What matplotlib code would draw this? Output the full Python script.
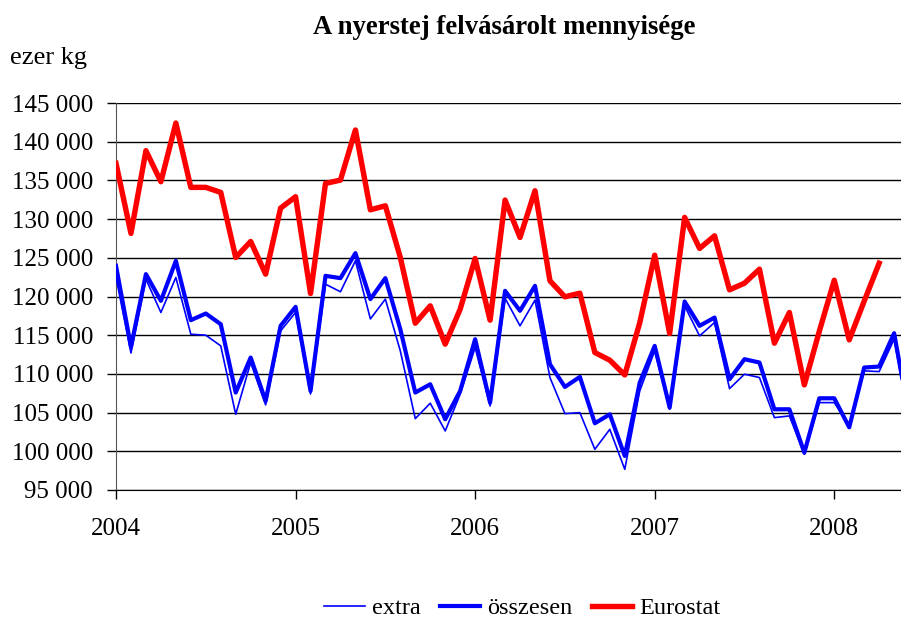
import numpy as np
import matplotlib
matplotlib.use('Agg')
import matplotlib.pyplot as plt

plt.rcParams['font.family'] = ['Liberation Serif', 'DejaVu Serif']

# havi adatok, 2004 jan - 2008 jun (ezer kg)
osszesen = [123970, 113500, 122890, 119440, 124610, 116940, 117800, 116420, 107590, 112110, 106500, 116210,
            118660, 107800, 122670, 122370, 125600, 119660, 122370, 115780, 107590, 108660, 104140, 107800,
            114480, 106290, 120730, 118150, 121380, 111250, 108320, 109610, 103620, 104780, 99400, 108880,
            113620, 105650, 119350, 116210, 117280, 109310, 111900, 111470, 105430, 105430, 99830, 106850,
            106850, 103100, 110820, 110950, 115260, 104500]
extra = [122500, 112700, 122240, 117930, 122460, 115130, 115000, 113620, 104780, 111470, 106000, 115560,
         117930, 107400, 121590, 120610, 124610, 117100, 119660, 112970, 104220, 106210, 102630, 107370,
         113410, 105860, 119780, 116210, 119530, 109530, 104870, 105000, 100260, 102840, 97670, 107800,
         112970, 105430, 118790, 114910, 116640, 108100, 109960, 109530, 104350, 104570, 99610, 106290,
         106290, 103400, 110390, 110300, 114480, 104000]
eurostat = [137200, 128150, 138840, 134830, 142410, 134100, 134100, 133450, 125040, 127110, 122890, 131420,
            132890, 120390, 134610, 135040, 141510, 131200, 131720, 125040, 116550, 118790, 113840, 118360,
            124910, 116940, 132460, 127630, 133660, 122030, 119960, 120430, 112760, 111770, 109870, 116600,
            125340, 115220, 130220, 126210, 127840, 120860, 121720, 123530, 113970, 117930, 108580, 115500,
            122100, 114400, 119400, 124300]
evek = ['2004', '2005', '2006', '2007', '2008']
y_ticks = list(range(95000, 145001, 5000))

fig = plt.figure(figsize=(9.01, 6.20), dpi=100)
ax = fig.add_axes([116/901, 1 - 490/620, (901 - 116)/901, (490 - 103)/620])

ax.plot(np.arange(len(osszesen)), osszesen, color='#0000ff', lw=3.0, label='összesen', zorder=3)
ax.plot(np.arange(len(extra)), extra, color='#0000ff', lw=1.2, label='extra', zorder=4)
ax.plot(np.arange(len(eurostat)), eurostat, color='#ff0000', lw=3.9, label='Eurostat', zorder=3)

ax.set_xlim(0, 52.46)
ax.set_ylim(95000, 145000)
ax.set_yticks(y_ticks)
ax.set_yticklabels([f'{v:,}'.replace(',', ' ') for v in y_ticks])
ax.set_xticks([12 * i for i in range(len(evek))])
ax.set_xticklabels(evek)
ax.yaxis.grid(True, color='black', lw=1)
ax.set_axisbelow(True)
ax.tick_params(axis='y', direction='out', length=6.5, width=1, pad=10, labelsize=18)
ax.tick_params(axis='x', direction='out', length=6.5, width=1, pad=14, labelsize=18)

ax.spines['top'].set_visible(False)
ax.spines['right'].set_visible(False)
ax.spines['left'].set_color('#555555')
ax.spines['bottom'].set_color('black')

fig.text(0.56, 1 - 27/620, 'A nyerstej felvásárolt mennyisége', ha='center', va='center',
         fontsize=19.3, fontweight='bold')
fig.text(10/901, 1 - 58/620, 'ezer kg', ha='left', va='center', fontsize=19)

h, l = ax.get_legend_handles_labels()
order = [1, 0, 2]
fig.legend([h[i] for i in order], [l[i] for i in order], loc='center', bbox_to_anchor=(0.58, 1 - 608/620),
           ncol=3, frameon=False, fontsize=17.5, handlelength=1.65, handletextpad=0.3, columnspacing=0.8)

fig.savefig('out.png', dpi=100)
